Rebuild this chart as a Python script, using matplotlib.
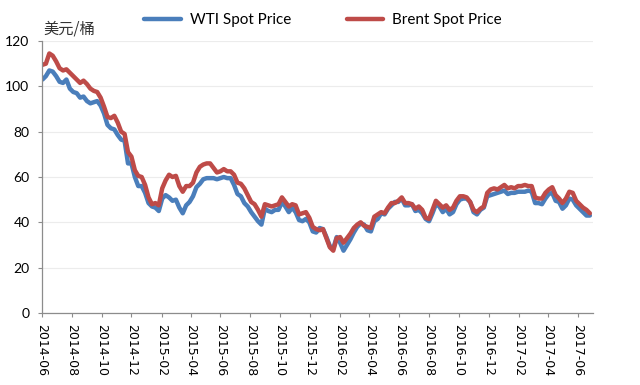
import matplotlib
matplotlib.use("Agg")
import matplotlib.pyplot as plt
import matplotlib.dates as mdates
import pandas as pd

# weekly readings (Mondays), 2014-06-02 .. 2017-06-26
brent_2014 = [109.5, 110.0, 114.5, 113.5, 111.0, 108.0, 107.0, 107.5, 106.0, 104.5, 103.0,
              101.5, 102.5, 101.0, 99.0, 98.0, 97.5, 95.0, 91.0, 86.5, 86.0, 87.0, 84.0,
              80.0, 79.0, 71.0, 69.0, 63.0, 60.5, 60.0, 56.5]
brent_2015 = [51.0, 48.0, 48.5, 47.5, 55.0, 58.5, 61.0, 60.0, 60.5, 56.0, 53.5, 56.0, 56.0,
              57.5, 62.0, 64.5, 65.5, 66.0, 66.0, 64.0, 62.0, 62.5, 63.5, 62.5, 62.5, 61.0,
              57.5, 57.0, 55.0, 52.0, 49.0, 48.0, 45.5, 42.5, 48.0, 47.5, 47.0, 47.5, 48.0,
              51.0, 49.0, 47.0, 48.0, 47.5, 43.5, 44.0, 44.5, 42.0, 38.0, 37.0, 36.5, 37.0]
brent_2016 = [33.0, 29.0, 27.5, 33.0, 33.5, 31.0, 33.0, 35.0, 37.5, 39.0, 40.0, 38.5, 38.0,
              37.5, 42.5, 43.5, 44.5, 44.0, 46.5, 48.5, 48.5, 49.5, 51.0, 48.5, 48.5, 48.0,
              46.0, 47.0, 45.5, 42.0, 41.5, 45.5, 49.5, 48.0, 46.5, 47.5, 45.5, 46.5, 49.5,
              51.5, 51.5, 51.0, 49.0, 45.5, 44.5, 46.0, 47.0, 53.0, 54.5, 55.0, 54.5, 55.5]
brent_2017 = [56.5, 55.0, 55.5, 55.0, 56.0, 56.0, 56.5, 56.0, 56.0, 51.0, 50.5, 50.5, 53.0,
              54.5, 55.5, 52.0, 50.5, 48.5, 50.5, 53.5, 53.0, 49.5, 48.0, 46.5, 45.5, 44.0]

wti_2014 = [103.0, 104.5, 107.0, 106.5, 104.5, 102.0, 101.5, 103.0, 99.0, 97.5, 97.0,
            95.0, 95.5, 93.5, 92.5, 93.0, 93.5, 91.5, 88.0, 83.0, 81.5, 81.0, 78.5,
            76.5, 76.0, 66.0, 66.0, 60.0, 56.0, 56.0, 53.0]
wti_2015 = [48.5, 47.0, 46.5, 45.0, 50.5, 52.0, 51.0, 49.5, 50.0, 46.5, 44.0, 47.5, 49.0,
            51.5, 55.5, 57.0, 59.0, 59.5, 59.5, 59.5, 59.0, 59.5, 60.0, 59.5, 59.5, 56.5,
            52.5, 51.5, 48.5, 47.0, 44.5, 42.5, 40.5, 39.0, 46.0, 45.0, 44.5, 45.5, 45.5,
            49.0, 47.0, 44.5, 46.5, 44.5, 41.0, 40.5, 41.5, 40.0, 36.0, 35.5, 37.5, 37.0]
wti_2016 = [33.5, 29.5, 28.5, 33.5, 31.0, 27.5, 30.0, 32.5, 35.5, 38.0, 39.5, 39.0, 36.5,
            36.0, 40.5, 41.5, 44.0, 43.5, 46.0, 47.5, 49.0, 49.0, 50.5, 47.5, 47.5, 48.0,
            45.0, 45.5, 44.0, 41.5, 40.5, 44.0, 48.0, 47.0, 44.5, 46.0, 43.5, 44.5, 48.0,
            50.0, 50.5, 50.5, 49.0, 44.5, 43.5, 45.5, 46.5, 51.5, 52.0, 52.5, 53.0, 53.5]
wti_2017 = [54.0, 52.5, 53.0, 53.0, 53.5, 53.5, 53.5, 54.0, 53.5, 48.5, 48.5, 48.0, 50.5,
            52.5, 53.0, 49.5, 49.0, 46.0, 47.5, 50.5, 50.0, 47.5, 46.0, 44.5, 43.0, 43.0]

brent = brent_2014 + brent_2015 + brent_2016 + brent_2017
wti = wti_2014 + wti_2015 + wti_2016 + wti_2017
dates = pd.date_range("2014-06-02", periods=len(brent), freq="W-MON")

plt.rcParams["font.family"] = ["Lato", "DejaVu Sans"]

fig = plt.figure(figsize=(6.4, 3.85), dpi=100)
ax = fig.add_axes([0.0656, 0.187, 0.8614, 0.7065])

ax.plot(dates, wti, color="#4a7ebb", lw=3.2, solid_joinstyle="round",
        solid_capstyle="round", label="WTI Spot Price")
ax.plot(dates, brent, color="#be4b48", lw=3.2, solid_joinstyle="round",
        solid_capstyle="round", label="Brent Spot Price")

ax.set_ylim(0, 120)
ax.set_yticks(range(0, 121, 20))
ax.set_xlim(pd.Timestamp("2014-06-01"), pd.Timestamp("2017-07-03"))
ax.xaxis.set_major_locator(mdates.MonthLocator(bymonth=[2, 4, 6, 8, 10, 12]))
ax.xaxis.set_major_formatter(mdates.DateFormatter("%Y-%m"))

ax.grid(axis="y", color="#ececec", lw=0.8)
ax.set_axisbelow(True)
for s in ["top", "right"]:
    ax.spines[s].set_visible(False)
for s in ["left", "bottom"]:
    ax.spines[s].set_color("#8c8c8c")
    ax.spines[s].set_linewidth(0.9)

ax.tick_params(axis="y", length=3, color="#8c8c8c", labelsize=10, pad=6)
ax.tick_params(axis="x", length=3, color="#8c8c8c", pad=5)
for lab in ax.get_xticklabels():
    lab.set_fontfamily("DejaVu Sans")
    lab.set_fontsize(9)
    lab.set_rotation(-90)
    lab.set_va("top")
    lab.set_ha("center")

fig.text(0.067, 0.925, "美元/桶", fontsize=11, family=["Noto Sans CJK SC", "DejaVu Sans"],
         ha="left", va="center", color="#333333")

fig.legend(loc="center", bbox_to_anchor=(0.505, 0.948), ncol=2, frameon=False,
           fontsize=11, handlelength=2.4, handletextpad=0.6, columnspacing=3.6)

fig.savefig("out.png", dpi=100)
